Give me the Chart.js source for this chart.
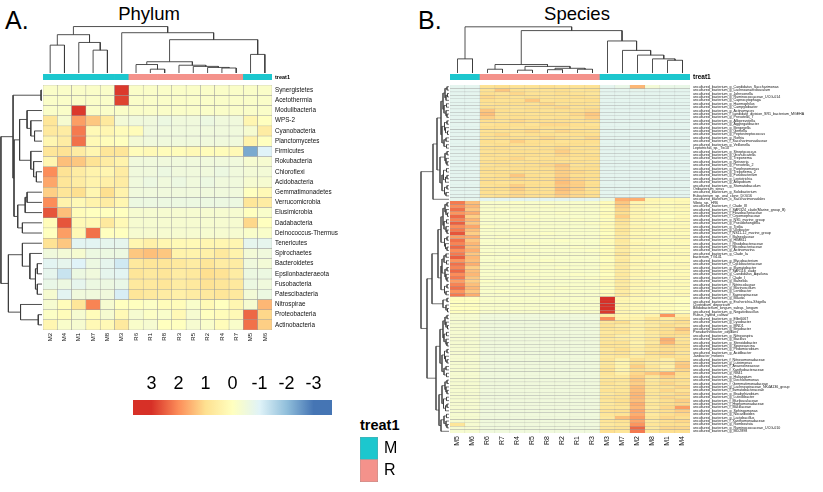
<!DOCTYPE html>
<html><head><meta charset="utf-8">
<script src="https://cdn.jsdelivr.net/npm/chart.js@4.4.1/dist/chart.umd.min.js"></script>
<style>
html,body{margin:0;padding:0;background:#fff}
body{width:823px;height:492px;position:relative;overflow:hidden}
canvas{position:absolute}
.t{position:absolute;font-family:"Liberation Sans",Arial,sans-serif;color:#000;line-height:1;white-space:nowrap}
</style></head><body>
<div class="t" style="left:5px;top:8px;font-size:25px">A.</div>
<div class="t" style="left:149px;top:5px;font-size:18.5px;transform:translateX(-50%)">Phylum</div>
<div class="t" style="left:418px;top:8px;font-size:25px">B.</div>
<div class="t" style="left:577px;top:5px;font-size:18.5px;transform:translateX(-50%)">Species</div>
<div class="t" style="left:360px;top:418px;font-size:14.5px;font-weight:bold">treat1</div>
<script>
// ---------------- DATA ----------------
const phylumColumns = ['M2','M4','M1','M7','M8','M3','R6','R1','R8','R3','R5','R2','R4','R7','M5','M6'];
const phylumRows = ['Synergistetes','Acetothermia','Modulibacteria','WPS-2','Cyanobacteria','Planctomycetes','Firmicutes','Rokubacteria','Chloroflexi','Acidobacteria','Gemmatimonadetes','Verrucomicrobia','Elusimicrobia','Dadabacteria','Deinococcus-Thermus','Tenericutes','Spirochaetes','Bacteroidetes','Epsilonbacteraeota','Fusobacteria','Patescibacteria','Nitrospirae','Proteobacteria','Actinobacteria'];
const phylumValues = [
[-0.15,-0.15,-0.15,-0.15,-0.15,2.9,-0.15,-0.15,-0.15,-0.15,-0.15,-0.15,-0.15,-0.15,-0.15,-0.15],
[-0.15,-0.15,-0.15,-0.15,-0.15,2.8,-0.15,-0.15,-0.15,-0.15,-0.15,-0.15,-0.15,-0.15,-0.15,-0.15],
[-0.15,-0.15,2.9,-0.15,-0.15,-0.15,-0.15,-0.15,-0.15,-0.15,-0.15,-0.15,-0.15,-0.15,-0.15,-0.15],
[0.8,-0.3,1.8,1.3,0.7,-0.4,-0.5,-0.5,-0.6,-0.5,-0.5,-0.6,-0.5,-0.5,0.3,0.0],
[0.7,0.6,2.2,0.2,0.3,0.1,0.1,-0.5,-0.5,-0.5,-0.5,-0.5,-0.5,-0.5,-0.3,0.6],
[0.3,0.6,2.3,0.2,0.1,0.0,-0.4,-0.5,-0.5,-0.5,-0.5,-0.5,-0.5,-0.5,0.4,0.0],
[0.8,0.9,0.6,0.3,0.8,0.8,0.1,0.2,0.1,0.1,0.2,0.1,0.1,0.2,-2.3,-1.0],
[0.3,1.4,1.3,0.9,0.6,0.4,-0.5,-0.5,-0.5,-0.5,-0.5,-0.5,-0.5,-0.5,-0.3,-0.3],
[2.0,0.9,0.6,0.4,0.3,0.6,-0.5,-0.5,-0.6,-0.5,-0.5,-0.5,-0.6,-0.5,-0.4,-0.4],
[1.7,0.8,0.6,0.4,0.5,0.6,-0.5,-0.6,-0.5,-0.6,-0.5,-0.6,-0.5,-0.5,-0.3,-0.3],
[1.2,0.8,1.0,0.3,1.0,0.4,-0.5,-0.5,-0.5,-0.5,-0.5,-0.5,-0.5,-0.5,0.0,0.2],
[2.0,0.4,0.2,0.4,0.6,0.3,-0.6,-0.6,-0.6,-0.6,-0.6,-0.6,-0.6,-0.6,0.8,0.6],
[2.6,1.4,0.1,0.0,0.0,0.0,-0.3,-0.3,-0.3,-0.3,-0.3,-0.3,-0.3,-0.3,0.0,-0.2],
[0.1,2.6,0.2,0.2,0.7,0.2,-0.3,-0.3,-0.3,-0.3,-0.3,-0.3,-0.3,-0.3,1.1,0.0],
[0.0,1.8,0.2,2.3,0.0,0.0,-0.3,-0.3,-0.3,-0.3,-0.3,-0.3,-0.3,-0.3,-0.2,-0.2],
[0.9,1.3,-0.9,-0.9,-0.8,-0.8,0.3,0.5,0.3,0.2,0.2,0.3,0.3,0.3,-0.8,-0.8],
[-0.5,-0.4,-0.3,-0.6,-0.6,-0.6,1.3,1.4,1.3,0.4,0.4,0.5,0.7,0.4,-0.4,-0.5],
[-0.9,-0.8,-1.0,-0.6,-0.8,-1.2,0.7,0.8,0.8,0.7,0.6,0.8,0.6,0.6,-0.5,-0.4],
[-0.8,-1.3,-0.6,-0.5,-0.8,-0.9,0.8,0.7,0.8,0.6,0.7,1.0,0.9,0.6,-0.6,-0.6],
[-0.7,-0.6,-0.8,-0.6,-0.6,-0.7,0.7,0.7,0.8,0.6,0.7,0.9,0.8,0.7,-0.6,-0.5],
[-0.3,-0.9,-0.5,-0.5,-0.5,-1.1,0.8,0.7,0.6,0.5,0.6,0.7,0.8,0.7,-0.4,-0.6],
[-0.3,0.1,0.8,2.1,-0.3,0.0,0.0,-0.1,0.1,0.1,-0.2,0.2,0.0,0.3,-0.3,1.5],
[-0.1,0.1,-0.3,0.1,-0.3,0.2,-0.3,-0.1,-0.2,0.2,-0.3,0.0,0.1,0.2,2.4,1.1],
[0.3,-0.2,-0.3,0.2,0.2,0.7,-0.2,-0.3,0.0,0.0,-0.3,-0.2,0.1,-0.2,2.3,1.2]
];
// dendrograms: node = [height, left, right], leaf = row/column index
const phylumColTree = [40,[33,[24,0,1],[26.3,2,[19.7,3,4]]],[34.7,5,[28.7,[9.7,[7.3,6,[3.3,7,8]],[6.7,9,[5.7,10,[4.8,11,[4.3,12,13]]]]],[16,14,15]]]];
const phylumRowTree = [44,
  [31,[1,0,1],
      [30,[24,[16,2,[12,3,[8,4,5]]],[12,6,[9,7,[6,8,9]]]],
          [26,[18,[16,10,11],12],[21,13,14]]]],
  [36,[21,15,[13,16,[7,[5,17,18],[5,19,20]]]],[23,21,[4,22,23]]]];

const speciesColumns = ['M5','M6','R6','R7','R4','R5','R8','R2','R1','R3','M3','M7','M2','M8','M1','M4'];
const speciesRows = [
'uncultured_bacterium_g_Candidatus_Saccharimonas','uncultured_bacterium_g_Lachnoanaerobaculum','uncultured_bacterium_g_Johnsonella','uncultured_bacterium_g_Ruminococcaceae_UCG-014','uncultured_bacterium_g_Capnocytophaga','uncultured_bacterium_g_Haemophilus','uncultured_bacterium_g_Campylobacter','uncultured_bacterium_g_Actinomyces','uncultured_bacterium_f_candidate_division_SR1_bacterium_MGEHA','uncultured_bacterium_g_Prevotella_7',
'uncultured_bacterium_g_Alloprevotella','uncultured_bacterium_g_Aggregatibacter','uncultured_bacterium_g_Bergeyella','uncultured_bacterium_g_Gemella','uncultured_bacterium_g_Peptostreptococcus','uncultured_bacterium_g_Rothia','uncultured_bacterium_f_Saccharimonadaceae','uncultured_bacterium_g_Veillonella','Leptotrichia_sp._Tw10','uncultured_bacterium_g_Streptococcus',
'uncultured_bacterium_g_Granulicatella','uncultured_bacterium_g_Treponema','uncultured_bacterium_g_Neisseria','uncultured_bacterium_g_Prevotella_2','uncultured_bacterium_g_Porphyromonas','uncultured_bacterium_g_Treponema_2','uncultured_bacterium_g_Fusobacterium','uncultured_bacterium_g_Leptotrichia','uncultured_bacterium_g_Atopobium','uncultured_bacterium_g_Stomatobaculum',
'Oribacterium_sinus','uncultured_bacterium_g_Solobacterium','Eubacterium_sp._oral_clone_DO016','uncultured_bacterium_o_Saccharimonadales',
'Vibrio_sp._HR6','uncultured_bacterium_f_Clade_III','uncultured_bacterium_f_SAR324_clade(Marine_group_B)','uncultured_bacterium_f_Flavobacteriaceae','uncultured_bacterium_f_Cryomorphaceae','uncultured_bacterium_g_NS5_marine_group',
'uncultured_bacterium_g_Pseudohongiella','uncultured_bacterium_g_Tistlia','uncultured_bacterium_g_Ulvibacter','uncultured_bacterium_f_NS11-12_marine_group','uncultured_bacterium_f_Balneolaceae','uncultured_bacterium_g_HIMB11','uncultured_bacterium_f_Rhodobacteraceae','uncultured_bacterium_f_Microbacteriaceae','uncultured_bacterium_g_Actinomarina','uncultured_bacterium_g_Clade_Ia',
'bacterium_TG141','uncultured_bacterium_g_Mycobacterium','uncultured_bacterium_f_Cyclobacteriaceae','uncultured_bacterium_g_Illumatobacter','uncultured_bacterium_f_SAR116_clade','uncultured_bacterium_g_Candidatus_Aquiluna','uncultured_bacterium_f_Clade_I','uncultured_bacterium_g_Balneola','uncultured_bacterium_f_Nitrincolaceae','uncultured_bacterium_g_Marinoscillum',
'uncultured_bacterium_g_Lentibacter','uncultured_bacterium_f_Saprospiraceae',
'uncultured_bacterium_g_Blautia','uncultured_bacterium_g_Escherichia-Shigella','Clostridium_disporicum','Bifidobacterium_longum_subsp._longum','uncultured_bacterium_g_Negativibacillus',
'Rubus_hybrid_cultivar','uncultured_bacterium_g_Ellin6067','uncultured_bacterium_g_Lysobacter','uncultured_bacterium_g_MND1','uncultured_bacterium_g_Bryobacter','Pseudarthrobacter_oxydans','uncultured_bacterium_g_Nitrosospira',
'uncultured_bacterium_g_Bacillus','uncultured_bacterium_g_Steroidobacter','uncultured_bacterium_g_Sporosarcina','uncultured_bacterium_g_Pedomicrobium','uncultured_bacterium_g_Acidibacter','Janibacter_melonis','uncultured_bacterium_f_Nitrosomonadaceae','uncultured_bacterium_g_Luteimonas','uncultured_bacterium_f_Anaerolineaceae','uncultured_bacterium_f_Xanthobacteraceae',
'uncultured_bacterium_g_RB41','uncultured_bacterium_g_Haliangium','uncultured_bacterium_g_Dechloromonas','uncultured_bacterium_f_Gemmatimonadaceae','uncultured_bacterium_g_Lachnospiraceae_NK4A136_group','uncultured_bacterium_f_Ilumatobacteraceae','uncultured_bacterium_g_Bradyrhizobium','uncultured_bacterium_g_Luteolibacter',
'uncultured_bacterium_f_Muribaculaceae','uncultured_bacterium_f_Hyphomonadaceae','uncultured_bacterium_f_Bacillaceae','uncultured_bacterium_g_Sphingomonas','uncultured_bacterium_g_Nocardioides','uncultured_bacterium_g_Lactobacillus','uncultured_bacterium_f_Xanthomonadaceae','uncultured_bacterium_g_Romboutsia',
'uncultured_bacterium_g_Ruminococcaceae_UCG-010','uncultured_bacterium_g_MD2898'];
const speciesValues = [
[-0.85,-0.85,0.9,1.0,0.9,0.9,1.0,0.9,0.9,0.9,-0.85,-0.7,1.5,-0.4,-0.7,-0.7],
[-0.85,-0.85,0.9,1.3,1.0,0.9,0.9,1.0,0.8,0.9,-0.85,-0.85,-0.8,-0.85,-0.85,-0.85],
[-0.85,-0.85,1.0,0.9,1.1,0.9,0.9,1.0,0.9,0.8,-0.85,-0.85,-0.85,-0.85,-0.85,-0.85],
[-0.85,-0.85,1.1,1.0,0.9,1.0,0.9,0.9,1.0,0.9,-0.85,-0.85,-0.85,-0.85,-0.85,-0.85],
[-0.85,-0.85,1.0,0.9,1.0,1.3,0.9,1.0,0.9,1.0,-0.85,-0.85,-0.85,-0.85,-0.85,-0.85],
[-0.85,-0.85,0.9,1.0,1.0,0.9,1.1,0.9,1.0,0.9,-0.85,-0.85,-0.85,-0.85,-0.85,-0.85],
[-0.85,-0.85,1.0,0.9,0.9,1.0,1.0,1.1,0.9,1.0,-0.85,-0.85,-0.85,-0.85,-0.85,-0.85],
[-0.85,-0.85,1.3,1.0,0.9,1.0,0.9,1.0,1.0,1.1,-0.85,-0.85,-0.85,-0.85,-0.85,-0.85],
[-0.85,-0.85,1.4,0.9,1.0,0.9,1.0,0.9,1.1,1.3,-0.85,-0.85,-0.85,-0.85,-0.85,-0.85],
[-0.85,-0.85,1.2,1.0,1.0,1.0,0.9,1.0,1.0,1.2,-0.85,-0.85,-0.85,-0.85,-0.85,-0.85],
[-0.85,-0.85,1.0,0.9,1.1,1.0,1.0,1.0,0.9,1.0,-0.85,-0.85,-0.85,-0.85,-0.85,-0.85],
[-0.85,-0.85,0.9,1.0,1.0,0.9,1.1,1.1,1.0,0.9,-0.85,-0.85,-0.85,-0.85,-0.85,-0.85],
[-0.85,-0.85,1.0,1.0,0.9,1.0,1.0,1.0,0.9,1.0,-0.85,-0.85,-0.85,-0.85,-0.85,-0.85],
[-0.85,-0.85,0.9,0.9,1.0,1.1,0.9,1.1,1.0,0.9,-0.85,-0.85,-0.85,-0.85,-0.85,-0.85],
[-0.85,-0.85,1.0,1.1,0.9,1.0,1.0,0.9,1.0,1.0,-0.85,-0.85,-0.85,-0.85,-0.85,-0.85],
[-0.85,-0.85,0.9,1.0,1.0,0.9,1.1,1.0,0.9,1.1,-0.85,-0.85,-0.85,-0.85,-0.85,-0.85],
[-0.85,-0.85,1.0,0.9,1.2,1.0,1.0,0.9,1.0,1.0,-0.85,-0.85,-0.85,-0.85,-0.85,-0.85],
[-0.85,-0.85,0.9,1.0,1.0,1.0,0.9,1.0,1.0,0.9,-0.85,-0.85,-0.85,-0.85,-0.85,-0.85],
[-0.85,-0.85,1.0,1.0,0.9,0.9,1.0,1.1,0.9,1.0,-0.85,-0.85,-0.85,-0.85,-0.85,-0.85],
[-0.85,-0.85,0.9,1.0,1.0,1.0,1.0,1.2,1.0,0.9,-0.85,-0.85,-0.85,-0.85,-0.85,-0.85],
[-0.85,-0.85,1.0,0.9,1.0,1.0,0.9,1.1,1.0,1.0,-0.85,-0.85,-0.85,-0.85,-0.85,-0.85],
[-0.85,-0.85,0.9,1.0,1.1,0.9,1.0,1.0,0.9,1.0,-0.85,-0.85,-0.85,-0.85,-0.85,-0.85],
[-0.85,-0.85,1.0,1.0,0.9,1.0,1.0,1.0,1.0,0.9,-0.85,-0.85,-0.85,-0.85,-0.85,-0.85],
[-0.85,-0.85,0.9,1.0,1.0,1.0,1.1,1.3,0.9,1.0,-0.85,-0.85,-0.85,-0.85,-0.85,-0.85],
[-0.85,-0.85,1.0,0.9,1.0,1.0,1.0,1.2,1.0,1.0,-0.85,-0.85,-0.85,-0.85,-0.85,-0.85],
[-0.85,-0.85,1.0,1.0,1.0,0.9,1.0,1.2,1.1,1.0,-0.85,-0.85,-0.85,-0.85,-0.85,-0.85],
[-0.85,-0.85,0.9,1.0,1.3,1.0,0.9,1.2,1.0,1.0,-0.85,-0.85,-0.85,-0.85,-0.85,-0.85],
[-0.85,-0.85,1.0,1.0,1.1,1.0,1.0,1.3,1.1,1.0,-0.85,-0.85,-0.85,-0.85,-0.85,-0.85],
[-0.85,-0.85,1.0,0.9,1.0,1.0,1.0,1.4,1.2,1.0,-0.85,-0.85,-0.85,-0.85,-0.85,-0.85],
[-0.85,-0.85,0.9,1.0,1.2,1.0,1.0,1.3,1.2,1.0,-0.85,-0.85,-0.85,-0.85,-0.85,-0.85],
[-0.85,-0.85,1.0,1.0,1.2,1.0,0.9,1.4,1.2,0.9,-0.85,-0.85,-0.85,-0.85,-0.85,-0.85],
[-0.85,-0.85,1.0,0.9,1.1,1.0,1.0,1.3,1.1,1.0,-0.85,-0.85,-0.85,-0.85,-0.85,-0.85],
[-0.85,-0.85,0.9,1.0,1.1,1.0,1.0,1.2,1.1,1.0,-0.85,-0.85,-0.85,-0.85,-0.85,-0.85],
[-0.8,-0.8,-0.9,-0.9,-0.9,-0.9,-0.9,-0.9,-0.9,-0.9,-0.6,1.6,1.6,0.3,0.2,0.2],
[2.2,1.4,-0.2,-0.2,-0.1,-0.2,-0.2,-0.2,-0.2,-0.2,0.1,1.3,0.3,0.2,0.1,0.2],
[2.0,1.5,-0.2,-0.2,-0.2,-0.2,-0.1,-0.2,-0.2,-0.2,0.1,1.2,0.4,0.2,0.1,0.2],
[2.3,1.3,-0.2,-0.1,-0.2,-0.2,-0.2,-0.2,-0.2,-0.2,0.0,1.1,0.3,0.1,0.1,0.2],
[1.9,1.6,-0.2,-0.2,-0.2,-0.2,-0.2,-0.1,-0.2,-0.2,0.1,1.0,0.3,0.2,0.1,0.1],
[2.4,1.2,-0.2,-0.2,-0.2,-0.1,-0.2,-0.2,-0.2,-0.2,0.1,1.2,0.3,0.2,0.0,0.2],
[2.1,1.5,-0.2,-0.2,-0.2,-0.2,-0.2,-0.2,-0.1,-0.2,0.0,0.9,0.3,0.2,0.1,0.2],
[2.5,1.3,-0.2,-0.2,-0.2,-0.2,-0.2,-0.2,-0.2,-0.1,0.1,0.8,0.2,0.1,0.1,0.1],
[2.0,1.7,-0.1,-0.2,-0.2,-0.2,-0.2,-0.2,-0.2,-0.2,0.1,0.7,0.3,0.2,0.1,0.2],
[2.2,1.4,-0.2,-0.2,-0.1,-0.2,-0.2,-0.2,-0.2,-0.2,0.1,0.8,0.3,0.2,0.2,0.2],
[2.6,1.2,-0.2,-0.2,-0.2,-0.2,-0.1,-0.2,-0.2,-0.2,0.0,0.7,0.2,0.1,0.1,0.1],
[1.8,1.6,-0.2,-0.1,-0.2,-0.2,-0.2,-0.2,-0.2,-0.2,0.1,0.6,0.3,0.2,0.1,0.2],
[2.3,1.3,-0.2,-0.2,-0.2,-0.2,-0.2,-0.1,-0.2,-0.2,0.1,0.7,0.2,0.2,0.1,0.2],
[2.1,1.5,-0.2,-0.2,-0.2,-0.1,-0.2,-0.2,-0.2,-0.2,0.1,0.6,0.3,0.1,0.1,0.1],
[2.4,1.4,-0.2,-0.2,-0.2,-0.2,-0.2,-0.2,-0.1,-0.2,0.0,0.7,0.2,0.2,0.1,0.2],
[2.0,1.6,-0.2,-0.2,-0.2,-0.2,-0.2,-0.2,-0.2,-0.1,0.1,0.6,0.3,0.2,0.1,0.1],
[2.2,1.3,-0.1,-0.2,-0.2,-0.2,-0.2,-0.2,-0.2,-0.2,0.1,0.8,0.2,0.1,0.2,0.2],
[2.5,1.5,-0.2,-0.2,-0.1,-0.2,-0.2,-0.2,-0.2,-0.2,0.1,0.6,0.3,0.2,0.1,0.2],
[1.9,1.4,-0.2,-0.2,-0.2,-0.2,-0.1,-0.2,-0.2,-0.2,0.0,0.7,0.2,0.2,0.1,0.1],
[2.3,1.6,-0.2,-0.1,-0.2,-0.2,-0.2,-0.2,-0.2,-0.2,0.1,0.6,0.3,0.1,0.1,0.2],
[2.1,1.2,-0.2,-0.2,-0.2,-0.2,-0.2,-0.1,-0.2,-0.2,0.1,0.7,0.2,0.2,0.1,0.2],
[2.4,1.4,-0.2,-0.2,-0.2,-0.1,-0.2,-0.2,-0.2,-0.2,0.1,0.6,0.3,0.2,0.2,0.1],
[2.0,1.5,-0.2,-0.2,-0.2,-0.2,-0.2,-0.2,-0.1,-0.2,0.0,0.7,0.3,0.2,0.1,0.2],
[2.2,1.3,-0.2,-0.2,-0.2,-0.2,-0.2,-0.2,-0.2,-0.1,0.1,0.6,0.2,0.1,0.1,0.2],
[1.8,1.2,-0.1,-0.2,-0.2,-0.2,-0.2,-0.2,-0.2,-0.2,0.1,0.7,0.3,0.2,0.1,0.1],
[2.1,1.4,-0.2,-0.2,-0.2,-0.1,-0.2,-0.2,-0.2,-0.2,0.1,0.6,0.3,0.2,0.1,0.2],
[2.3,1.5,-0.2,-0.2,-0.2,-0.2,-0.2,-0.1,-0.2,-0.2,0.0,0.7,0.2,0.1,0.1,0.1],
[1.9,1.3,-0.2,-0.1,-0.2,-0.2,-0.2,-0.2,-0.2,-0.2,0.1,0.6,0.3,0.2,0.1,0.2],
[2.2,1.6,-0.2,-0.2,-0.2,-0.2,-0.1,-0.2,-0.2,-0.2,0.1,0.7,0.3,0.2,0.1,0.2],
[0.0,0.0,-0.2,-0.2,-0.2,-0.2,-0.2,-0.2,-0.2,-0.2,3.0,0.3,0.2,0.1,0.1,0.0],
[0.0,0.0,-0.2,-0.2,-0.2,-0.2,-0.2,-0.2,-0.2,-0.2,3.0,0.3,0.2,0.1,0.1,0.0],
[0.0,0.0,-0.2,-0.2,-0.2,-0.2,-0.2,-0.2,-0.2,-0.2,3.0,0.3,0.2,0.1,0.1,0.0],
[0.0,0.0,-0.2,-0.2,-0.2,-0.2,-0.2,-0.2,-0.2,-0.2,3.0,0.3,0.2,0.1,0.1,0.0],
[0.0,0.0,-0.2,-0.2,-0.2,-0.2,-0.2,-0.2,-0.2,-0.2,2.9,0.3,0.2,0.1,0.1,0.0],
[-0.3,-0.3,-0.5,-0.5,-0.5,-0.5,-0.5,-0.5,-0.5,-0.5,0.6,0.3,0.3,0.4,1.9,0.5],
[-0.3,-0.3,-0.5,-0.5,-0.5,-0.5,-0.5,-0.5,-0.5,-0.5,2.0,0.4,0.4,0.8,0.6,0.9],
[-0.3,-0.3,-0.5,-0.5,-0.5,-0.5,-0.5,-0.5,-0.5,-0.5,0.8,1.0,0.4,0.7,0.8,1.0],
[-0.3,-0.3,-0.5,-0.5,-0.5,-0.5,-0.5,-0.5,-0.5,-0.5,0.9,0.6,0.5,0.6,1.0,0.8],
[-0.3,-0.3,-0.5,-0.5,-0.5,-0.5,-0.5,-0.5,-0.5,-0.5,0.8,0.7,0.4,0.8,0.9,1.3],
[-0.3,-0.3,-0.5,-0.5,-0.5,-0.5,-0.5,-0.5,-0.5,-0.5,0.7,0.8,0.5,0.7,1.0,1.1],
[-0.3,-0.3,-0.5,-0.5,-0.5,-0.5,-0.5,-0.5,-0.5,-0.5,0.8,0.5,0.4,0.6,1.0,0.9],
[-0.3,-0.3,-0.5,-0.5,-0.5,-0.5,-0.5,-0.5,-0.5,-0.5,0.7,0.6,0.5,0.8,1.6,0.8],
[-0.3,-0.3,-0.5,-0.5,-0.5,-0.5,-0.5,-0.5,-0.5,-0.5,0.8,0.9,0.4,0.7,1.5,0.9],
[-0.3,-0.3,-0.5,-0.5,-0.5,-0.5,-0.5,-0.5,-0.5,-0.5,0.9,0.8,0.5,0.9,1.1,1.0],
[-0.3,-0.3,-0.5,-0.5,-0.5,-0.5,-0.5,-0.5,-0.5,-0.5,0.7,1.0,0.6,0.8,1.0,0.9],
[-0.3,-0.3,-0.5,-0.5,-0.5,-0.5,-0.5,-0.5,-0.5,-0.5,0.8,0.9,0.5,1.0,1.1,0.8],
[-0.3,-0.3,-0.5,-0.5,-0.5,-0.5,-0.5,-0.5,-0.5,-0.5,0.7,0.8,0.6,0.8,1.0,0.9],
[-0.3,-0.3,-0.5,-0.5,-0.5,-0.5,-0.5,-0.5,-0.5,-0.5,0.8,0.4,0.9,0.7,0.5,1.0],
[-0.3,-0.3,-0.5,-0.5,-0.5,-0.5,-0.5,-0.5,-0.5,-0.5,0.7,0.3,1.0,0.6,0.6,1.2],
[-0.3,-0.3,-0.5,-0.5,-0.5,-0.5,-0.5,-0.5,-0.5,-0.5,0.8,0.4,1.2,0.8,0.5,1.3],
[-0.3,-0.3,-0.5,-0.5,-0.5,-0.5,-0.5,-0.5,-0.5,-0.5,0.9,0.3,1.0,0.7,0.6,1.1],
[-0.3,-0.3,-0.5,-0.5,-0.5,-0.5,-0.5,-0.5,-0.5,-0.5,0.8,0.5,1.1,1.3,1.6,1.0],
[-0.3,-0.3,-0.5,-0.5,-0.5,-0.5,-0.5,-0.5,-0.5,-0.5,0.7,0.7,1.2,0.8,1.2,0.9],
[-0.3,-0.3,-0.5,-0.5,-0.5,-0.5,-0.5,-0.5,-0.5,-0.5,0.8,0.8,1.3,0.7,1.0,1.0],
[-0.3,-0.3,-0.5,-0.5,-0.5,-0.5,-0.5,-0.5,-0.5,-0.5,0.9,0.7,1.2,0.8,1.1,0.9],
[-0.3,-0.3,-0.5,-0.5,-0.5,-0.5,-0.5,-0.5,-0.5,-0.5,0.7,0.8,1.4,0.8,0.9,1.1],
[-0.3,-0.3,-0.5,-0.5,-0.5,-0.5,-0.5,-0.5,-0.5,-0.5,0.9,0.8,1.4,0.8,1.1,0.9],
[-0.3,-0.3,-0.5,-0.5,-0.5,-0.5,-0.5,-0.5,-0.5,-0.5,0.7,0.9,1.5,0.8,0.9,1.1],
[-0.3,-0.3,-0.5,-0.5,-0.5,-0.5,-0.5,-0.5,-0.5,-0.5,0.9,0.9,1.5,0.8,1.1,1.0],
[-0.3,-0.3,-0.5,-0.5,-0.5,-0.5,-0.5,-0.5,-0.5,-0.5,0.8,1.0,1.4,0.7,1.0,1.2],
[-0.3,-0.3,-0.5,-0.5,-0.5,-0.5,-0.5,-0.5,-0.5,-0.5,0.7,0.9,1.6,0.8,1.0,1.1],
[-0.3,-0.3,-0.5,-0.5,-0.5,-0.5,-0.5,-0.5,-0.5,-0.5,0.8,0.8,1.5,0.7,1.1,1.8],
[-0.3,-0.3,-0.5,-0.5,-0.5,-0.5,-0.5,-0.5,-0.5,-0.5,0.9,1.0,1.7,0.8,1.0,1.2],
[-0.3,-0.3,-0.5,-0.5,-0.5,-0.5,-0.5,-0.5,-0.5,-0.5,0.8,0.9,1.6,0.7,1.0,1.1],
[-0.3,-0.3,-0.5,-0.5,-0.5,-0.5,-0.5,-0.5,-0.5,-0.5,0.7,1.4,1.8,0.8,1.1,1.0],
[-0.3,-0.3,-0.5,-0.5,-0.5,-0.5,-0.5,-0.5,-0.5,-0.5,0.8,0.9,1.7,0.7,1.0,1.1],
[0.8,-0.3,-0.5,-0.5,-0.5,-0.5,-0.5,-0.5,-0.5,-0.5,0.7,0.8,1.9,0.8,1.0,1.0],
[-0.3,-0.3,-0.5,-0.5,-0.5,-0.5,-0.5,-0.5,-0.5,-0.5,0.8,0.9,2.4,0.7,1.1,1.1],
[-0.3,-0.3,-0.5,-0.5,-0.5,-0.5,-0.5,-0.5,-0.5,-0.5,1.0,0.8,2.2,0.8,1.0,1.0]
];
const speciesColTree = [49,[15,0,1],[45,[9,[4,2,3],[7,[3,4,5],[5,[3.5,6,7],[4,8,9]]]],[34,10,[24,11,[19,12,[15,13,[13.5,14,15]]]]]]];
const spA = [12,[8,[6,[4,[2,0,1],[3,[1.5,2,3],4]],[5,[2.5,5,6],[3,7,[2,8,9]]]],[7,[4.5,[2,10,11],[3.5,12,[1.5,13,14]]],[5,[3,15,16],[2.5,17,18]]]],[9,[4,[2,19,20],[3,21,[2,22,23]]],[7,[5.5,[2.5,24,25],[3.5,[2,26,27],28]],[4.5,[2,29,30],[3,31,32]]]]];
const spC = [11,[8,[6,[4,[2,34,35],[3,36,[1.5,37,38]]],[5,[2.5,39,40],[3,41,[2,42,43]]]],[4.5,[2,44,45],[3.5,46,[2,47,48]]]],[8,[7,[5,[3,49,50],[2.5,51,52]],[4,[2,53,54],[3,55,[2,56,57]]]],[4.5,[2,58,59],[3,60,61]]]];
const spD = [6,[2,62,63],[3,64,[1.5,65,66]]];
const spE = [13,[9,[6,[4,[2,67,68],[3,69,[1.5,70,71]]],[5,[2.5,72,73],[3,74,[2,75,76]]]],[7,[4.5,[2,77,78],[3.5,79,[2,80,81]]],[5,[3,82,83],[2.5,84,85]]]],[10,[7,[4,[2,86,87],[3,88,[2,89,90]]],[5.5,[2.5,91,92],[3.5,[2,93,94],95]]],[8,[5,[2.5,96,97],[3,98,[2,99,100]]],101]]];
const speciesRowTree = [28,[16,spA,33],[22,[17,spC,spD],spE]];

const legendTicks = [3,2,1,0,-1,-2,-3];
const legendRange = [-3.68,3.68];
const treatGroups = ['M','R'];

// ---------------- STYLE ----------------
const FONT = '"Liberation Sans", Arial, sans-serif';
Chart.defaults.font.family = FONT;
const palette = ['#4575B4','#91BFDB','#E0F3F8','#FFFFBF','#FEE090','#FC8D59','#D73027'];
const treatColor = {M:'#1CC7CE', R:'#F4928B'};
const GRID = '#9c9c9c', LINE = '#3c3c3c';
const NOGRID = {display:false, drawTicks:false};

function hex2rgb(h){return [1,3,5].map(i=>parseInt(h.substr(i,2),16));}
function heatColor(v){
  const t = Math.max(-3,Math.min(3,v))+3; const i=Math.min(5,Math.floor(t)); const f=t-i;
  const a=hex2rgb(palette[i]), b=hex2rgb(palette[i+1]);
  return 'rgb('+a.map((x,k)=>Math.round(x+(b[k]-x)*f)).join(',')+')';
}
function mk(l,t,w,h){const c=document.createElement('canvas');c.width=w;c.height=h;c.style.left=l+'px';c.style.top=t+'px';c.style.width=w+'px';c.style.height=h+'px';document.body.appendChild(c);return c;}
function base(){return {responsive:false,animation:false,events:[],layout:{padding:0},plugins:{legend:{display:false},tooltip:{enabled:false}}};}
function noPad(s){s.paddingTop=0;s.paddingBottom=0;s.paddingLeft=0;s.paddingRight=0;}

function treeSegments(node,segs){
  if(typeof node==='number') return {pos:node+0.5,h:0};
  const [h,l,r]=node; const L=treeSegments(l,segs), R=treeSegments(r,segs);
  segs.push([[L.pos,L.h],[L.pos,h],[R.pos,h],[R.pos,R.h]]);
  return {pos:(L.pos+R.pos)/2,h};
}
function dendro(canvas,tree,orient,hMax,nLeaves,lw){
  const segs=[]; treeSegments(tree,segs);
  const datasets=segs.map(s=>({data:s.map(([p,h])=>orient==='col'?{x:p,y:h}:{x:h,y:p}),showLine:true,borderColor:LINE,borderWidth:lw,pointRadius:0,fill:false,tension:0}));
  const pos={type:'linear',min:0,max:nLeaves,display:false};
  const hs={type:'linear',min:0,max:hMax,display:false};
  const scales=orient==='col'?{x:pos,y:hs}:{x:Object.assign({},hs,{reverse:true}),y:Object.assign({},pos,{reverse:true})};
  new Chart(canvas,{type:'scatter',data:{datasets},options:Object.assign(base(),{scales})});
}
function heatmap(canvas,rows,cols,vals,o){
  const datasets=rows.map((r,i)=>({data:cols.map(()=>[i,i+1]),backgroundColor:vals[i].map(heatColor),borderColor:GRID,borderWidth:o.bw,borderSkipped:false,grouped:false,barPercentage:1,categoryPercentage:1,yAxisID:'y'}));
  new Chart(canvas,{type:'bar',data:{labels:cols,datasets},options:Object.assign(base(),{scales:{
    x:{type:'category',offset:true,grid:NOGRID,border:{display:false},ticks:{autoSkip:false,maxRotation:90,minRotation:90,font:{size:o.colFont},color:'#111',padding:3},afterFit:s=>{s.height=o.xh;noPad(s);}},
    y:{type:'linear',min:0,max:rows.length,reverse:true,display:false},
    yl:{type:'category',labels:rows,position:'right',offset:true,grid:NOGRID,border:{display:false},ticks:{autoSkip:false,font:{size:o.rowFont},color:'#111',padding:3},afterFit:s=>{s.width=o.yw;noPad(s);}}
  }})});
}
function annot(canvas,cols,labelFont,yw){
  const ds=[{data:cols.map(()=>[0,1]),backgroundColor:cols.map(c=>treatColor[c[0]]),borderWidth:0,grouped:false,barPercentage:1,categoryPercentage:1,yAxisID:'y'}];
  new Chart(canvas,{type:'bar',data:{labels:cols,datasets:ds},options:Object.assign(base(),{scales:{
    x:{type:'category',offset:true,display:false},
    y:{type:'linear',min:0,max:1,display:false},
    yl:{type:'category',labels:['treat1'],position:'right',offset:true,grid:NOGRID,border:{display:false},ticks:{font:{size:labelFont,weight:'bold'},color:'#000',padding:3},afterFit:s=>{s.width=yw;noPad(s);}}
  }})});
}

// ---------------- LEFT PANEL ----------------
dendro(mk(0,85,42,245),phylumRowTree,'row',45,phylumRows.length,0.9);
dendro(mk(43,24,229,49),phylumColTree,'col',42.2,phylumColumns.length,0.9);
annot(mk(43,74,259,6),phylumColumns,5.5,30);
heatmap(mk(43,85,314,265),phylumRows,phylumColumns,phylumValues,{bw:0.5,colFont:6,rowFont:6.3,xh:20,yw:85});

// colour key
new Chart(mk(133,368,199,47),{type:'bar',data:{labels:[''],datasets:[{data:[legendRange],borderWidth:0,barPercentage:1,categoryPercentage:1,
  backgroundColor:(ctx)=>{const ch=ctx.chart, a=ch.chartArea; if(!a) return '#ccc'; const xs=ch.scales.x;
    const g=ch.ctx.createLinearGradient(a.left,0,a.right,0);
    legendTicks.forEach(v=>{const p=(xs.getPixelForValue(v)-a.left)/(a.right-a.left); g.addColorStop(Math.max(0,Math.min(1,p)),heatColor(v));});
    return g;}}]},
  options:Object.assign(base(),{indexAxis:'y',scales:{
    x:{type:'linear',min:legendRange[0],max:legendRange[1],reverse:true,position:'top',grid:NOGRID,border:{display:false},
       ticks:{font:{size:18},color:'#000',padding:5,callback:v=>String(v)},afterBuildTicks:s=>{s.ticks=legendTicks.map(v=>({value:v}));},afterFit:s=>{s.height=32;noPad(s);}},
    y:{type:'category',display:false}}})});

// treat legend
new Chart(mk(360,437,56,45),{type:'bar',data:{labels:treatGroups,datasets:[{data:treatGroups.map(()=>[0,1]),backgroundColor:treatGroups.map(g=>treatColor[g]),borderColor:'#8a8a8a',borderWidth:0.6,borderSkipped:false,barPercentage:1,categoryPercentage:1}]},
  options:Object.assign(base(),{indexAxis:'y',scales:{
    x:{type:'linear',min:0,max:1,display:false},
    y:{type:'category',position:'right',offset:true,grid:NOGRID,border:{display:false},ticks:{font:{size:16},color:'#000',padding:6},afterFit:s=>{s.width=38;noPad(s);}}}})});

// ---------------- RIGHT PANEL ----------------
dendro(mk(419,85,30,348),speciesRowTree,'row',30,speciesRows.length,0.7);
dendro(mk(450,24,240,49),speciesColTree,'col',52,speciesColumns.length,0.9);
annot(mk(450,74,280,6),speciesColumns,6.5,40);
heatmap(mk(450,85,370,370),speciesRows,speciesColumns,speciesValues,{bw:0.35,colFont:7,rowFont:3.6,xh:22,yw:130});
</script></body></html>
